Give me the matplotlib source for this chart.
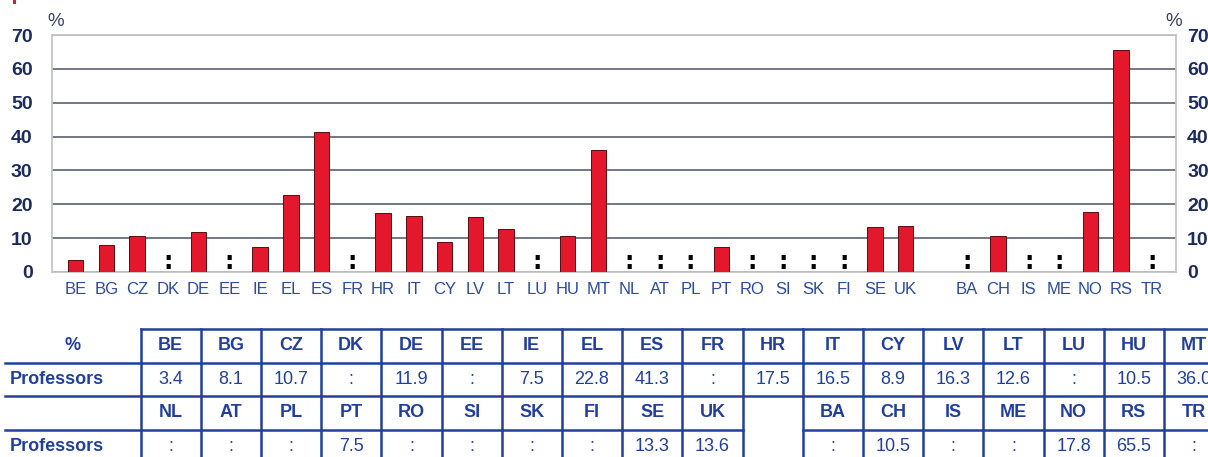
import numpy as np
import matplotlib
matplotlib.use("Agg")
import matplotlib.pyplot as plt
from matplotlib.patches import Rectangle

plt.rcParams['font.family'] = ['Liberation Sans Narrow', 'Liberation Sans', 'DejaVu Sans']

# Data: share of professors (%), None = not available (":")
eu_codes = ['BE', 'BG', 'CZ', 'DK', 'DE', 'EE', 'IE', 'EL', 'ES', 'FR', 'HR', 'IT', 'CY', 'LV',
            'LT', 'LU', 'HU', 'MT', 'NL', 'AT', 'PL', 'PT', 'RO', 'SI', 'SK', 'FI', 'SE', 'UK']
eu_values = [3.4, 8.1, 10.7, None, 11.9, None, 7.5, 22.8, 41.3, None, 17.5, 16.5, 8.9, 16.3,
             12.6, None, 10.5, 36.0, None, None, None, 7.5, None, None, None, None, 13.3, 13.6]
other_codes = ['BA', 'CH', 'IS', 'ME', 'NO', 'RS', 'TR']
other_values = [None, 10.5, None, None, 17.8, 65.5, None]
row_label = 'Professors'
yticks = [0, 10, 20, 30, 40, 50, 60, 70]

W, H = 1208, 457
BAR = '#e3182d'
NAVY = '#1c2b5e'
TBLUE = '#22409a'

codes = eu_codes + other_codes
values = eu_values + other_values
pos = np.concatenate([np.arange(len(eu_codes)), np.arange(len(other_codes)) + len(eu_codes) + 1])

fig = plt.figure(figsize=(W / 100, H / 100), dpi=100)
ax = fig.add_axes([52 / W, (H - 272) / H, (1176 - 52) / W, (272 - 35) / H])

# bars and missing markers
for p, v in zip(pos, values):
    if v is None:
        ax.text(p, 0.9, ':', ha='center', va='baseline', fontsize=17,
                fontweight='bold', color='black', family=['DejaVu Sans'])
    else:
        ax.bar(p, v, width=0.5, color=BAR, edgecolor='#5a0a10', linewidth=0.7, zorder=3)

ax.set_xlim(-0.77, pos[-1] + 0.79)
ax.set_ylim(0, 70)
ax.set_yticks(yticks)
ax.yaxis.grid(True, color='#676d7a', linewidth=1.3, zorder=0)
ax.set_axisbelow(True)
for s in ax.spines.values():
    s.set_color('#c4c4c4')
    s.set_linewidth(1.3)
ax.set_xticks(pos)
ax.set_xticklabels(codes, fontsize=12, color='#2c4a9c')
ax.tick_params(axis='x', length=0, pad=7)
ax.tick_params(axis='y', length=0, pad=14, labelsize=14, labelcolor=NAVY)
for t in ax.get_yticklabels():
    t.set_fontweight('bold')

ax2 = ax.twinx()
ax2.set_ylim(0, 70)
ax2.set_yticks(yticks)
ax2.tick_params(axis='y', length=0, pad=8, labelsize=14, labelcolor=NAVY)
for t in ax2.get_yticklabels():
    t.set_fontweight('bold')
for s in ax2.spines.values():
    s.set_visible(False)

# overlay in pixel coordinates for the table and the "%" labels
ov = fig.add_axes([0, 0, 1, 1])
ov.set_xlim(0, W)
ov.set_ylim(H, 0)
ov.axis('off')

ov.text(56, 21, '%', fontsize=13.5, color='#3a4466', ha='center', va='center')
ov.text(1174, 21, '%', fontsize=13.5, color='#3a4466', ha='center', va='center')
ov.add_patch(Rectangle((13, 0), 3, 4, color='#e3182d', linewidth=0))

# table
x0, cw = 140.5, 60.2
rows_y = [329, 362.7, 396, 429.5, 463]
lw = 1.8
ncols = 18
fs = 13
ov.plot([x0, W], [rows_y[0]] * 2, color=TBLUE, lw=lw)
ov.plot([5, W], [rows_y[1]] * 2, color=TBLUE, lw=lw)
ov.plot([5, W], [rows_y[2]] * 2, color=TBLUE, lw=lw)
ov.plot([5, x0 + 10 * cw], [rows_y[3]] * 2, color=TBLUE, lw=lw)
ov.plot([x0 + 11 * cw, W], [rows_y[3]] * 2, color=TBLUE, lw=lw)
for k in range(ncols + 1):
    ov.plot([x0 + k * cw] * 2, [rows_y[0], H + 5], color=TBLUE, lw=lw)

def fmt(v):
    return ':' if v is None else f'{v:.1f}'

def cy(r):
    return (rows_y[r] + rows_y[r + 1]) / 2

ov.text((5 + x0) / 2, cy(0), '%', ha='center', va='center', fontsize=fs,
        fontweight='bold', color=TBLUE)
ov.text(10, cy(1), row_label, ha='left', va='center', fontsize=fs, fontweight='bold', color=TBLUE)
ov.text(10, cy(3), row_label, ha='left', va='center', fontsize=fs, fontweight='bold', color=TBLUE)

first = list(zip(eu_codes[:ncols], eu_values[:ncols]))
second = [(c, v, i) for i, (c, v) in enumerate(zip(eu_codes[ncols:], eu_values[ncols:]))]
second += [(c, v, i + 11) for i, (c, v) in enumerate(zip(other_codes, other_values))]

for i, (c, v) in enumerate(first):
    xc = x0 + (i + 0.5) * cw
    ov.text(xc, cy(0), c, ha='center', va='center', fontsize=fs, fontweight='bold', color=TBLUE)
    ov.text(xc, cy(1), fmt(v), ha='center', va='center', fontsize=fs, color=TBLUE)
for c, v, i in second:
    xc = x0 + (i + 0.5) * cw
    ov.text(xc, cy(2), c, ha='center', va='center', fontsize=fs, fontweight='bold', color=TBLUE)
    ov.text(xc, cy(3), fmt(v), ha='center', va='center', fontsize=fs, color=TBLUE)

fig.savefig('out.png', dpi=100)
